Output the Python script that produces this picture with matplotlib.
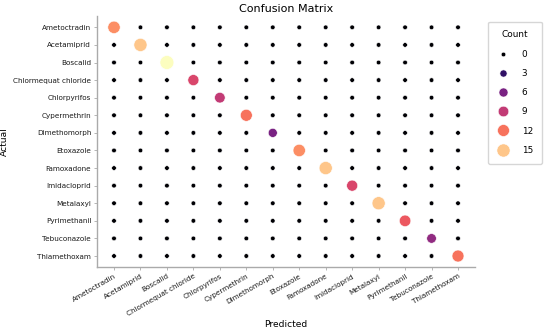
import numpy as np
import matplotlib
matplotlib.use("Agg")
import matplotlib.pyplot as plt
from matplotlib.lines import Line2D

# --- data ---
classes = ["Ametoctradin", "Acetamiprid", "Boscalid", "Chlormequat chloride",
           "Chlorpyrifos", "Cypermethrin", "Dimethomorph", "Etoxazole",
           "Famoxadone", "Imidacloprid", "Metalaxyl", "Pyrimethanil",
           "Tebuconazole", "Thiamethoxam"]
diag_counts = [13, 15, 17, 10, 9, 12, 6, 13, 15, 10, 15, 11, 7, 12]
legend_counts = [0, 3, 6, 9, 12, 15]

n = len(classes)
cm = np.zeros((n, n), dtype=int)
for i, c in enumerate(diag_counts):
    cm[i, i] = c

# --- size / colour mapping (like seaborn hue + size) ---
cmap = plt.get_cmap("magma")
vmax = cm.max()
s_min, s_max = 11, 100

def size_of(v):
    return s_min + (s_max - s_min) * v / vmax

def color_of(v):
    return cmap(v / vmax)

xs, ys, vals = [], [], []
for i in range(n):
    for j in range(n):
        xs.append(j)
        ys.append(i)
        vals.append(cm[i, j])
vals = np.array(vals)

fig = plt.figure(figsize=(5.5, 3.31), dpi=100)
ax = fig.add_axes([0.176, 0.192, 0.688, 0.76])

ax.scatter(xs, ys, s=size_of(vals), c=[color_of(v) for v in vals],
           edgecolors="white", linewidths=0.4, zorder=3)

ax.set_xticks(range(n))
ax.set_xticklabels(classes, rotation=30, ha="right", fontsize=5.2,
                   rotation_mode="anchor")
ax.set_yticks(range(n))
ax.set_yticklabels(classes, fontsize=5.2)
ax.set_xlim(-0.65, n - 1 + 0.65)
ax.set_ylim(n - 1 + 0.65, -0.65)

ax.spines["top"].set_visible(False)
ax.spines["right"].set_visible(False)
for sp in ["left", "bottom"]:
    ax.spines[sp].set_color("#aaaaaa")
    ax.spines[sp].set_linewidth(1.0)
ax.tick_params(axis="both", colors="#aaaaaa", length=2.5, width=0.6,
               labelcolor="#1a1a1a", pad=1.5)

ax.set_title("Confusion Matrix", fontsize=8, pad=2.5)
ax.set_xlabel("Predicted", fontsize=6.6, labelpad=2)
ax.set_ylabel("Actual", fontsize=6.6, labelpad=3)

handles = [Line2D([], [], linestyle="none", marker="o",
                  markersize=np.sqrt(size_of(v)), markerfacecolor=color_of(v),
                  markeredgecolor="white", markeredgewidth=0.4)
           for v in legend_counts]
leg = fig.legend(handles, [str(v) for v in legend_counts], title="Count",
                 loc="upper left", bbox_to_anchor=(0.887, 0.935),
                 fontsize=6.4, title_fontsize=6.4, frameon=True,
                 labelspacing=1.15, handletextpad=1.5, borderpad=1.0,
                 handlelength=1.3, borderaxespad=0)
leg.get_frame().set_edgecolor("#cccccc")

fig.savefig("out.png", dpi=100)
